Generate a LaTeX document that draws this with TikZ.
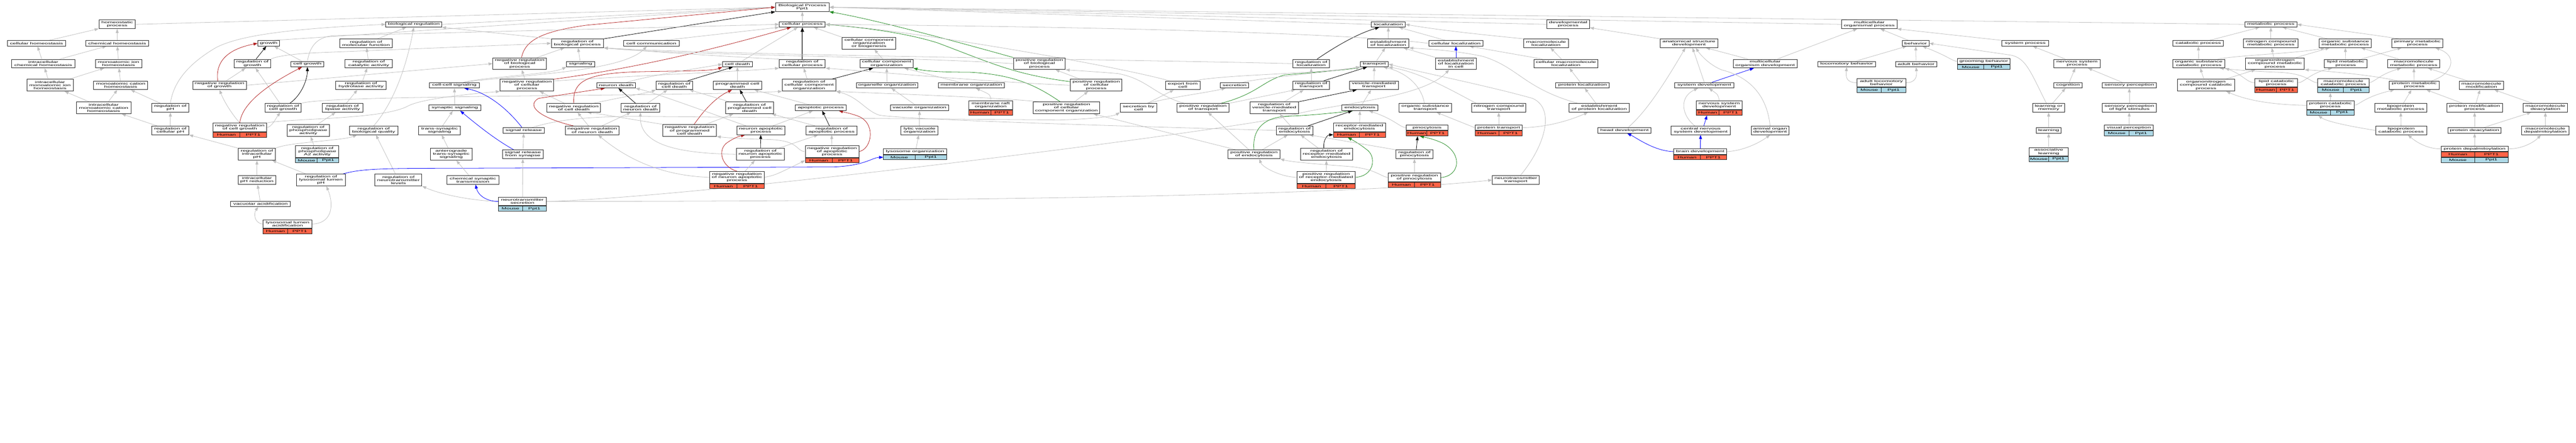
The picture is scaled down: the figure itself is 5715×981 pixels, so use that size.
\documentclass[tikz,border=0pt]{standalone}
\usepackage{fontspec}
\setmainfont{Liberation Sans}[FakeStretch=1.86]
\usetikzlibrary{arrows.meta,fit,backgrounds}
\definecolor{tomatoc}{HTML}{FF6347}
\definecolor{lblue}{HTML}{ADD8E6}
\definecolor{egray}{HTML}{C0C0C0}
\definecolor{fred}{HTML}{B22222}
\definecolor{fgreen}{HTML}{228B22}
\newcommand\gofont{\fontsize{7}{7}\selectfont}
\tikzset{
 gobox/.style={draw=black!85,line width=1.1pt,fill=white,inner sep=0pt,align=center,font=\gofont},
 hcell/.style={gobox,fill=tomatoc,minimum height=11pt},
 mcell/.style={gobox,fill=lblue,minimum height=11pt},
 gotip/.style={-{Triangle[length=9pt,width=6.5pt]}},
 isa/.style={draw=egray,line width=0.9pt,gotip},
 regl/.style={draw=black,line width=0.9pt,gotip},
 negr/.style={draw=fred,line width=0.9pt,gotip},
 posr/.style={draw=fgreen,line width=0.9pt,gotip},
 partof/.style={draw=blue,line width=0.9pt,gotip},
 regthick/.style={draw=black!65,line width=2pt,-{Triangle[length=10pt,width=7.5pt,color=black]}},
}
\newcommand\GOn[6]{\node[gobox,minimum width=#4pt,minimum height=#5pt] (#1) at (#2,#3) {#6};}
\newcommand\GOs[9]{%
 \node[gobox,minimum width=#4pt,minimum height=#5pt] (#1-t) at (#2,#3) {#6};
 \node[#7,anchor=north west,minimum width=#4pt/2] (#1-a) at (#1-t.south west) {#8};
 \node[#7,anchor=north east,minimum width=#4pt/2] (#1-b) at (#1-t.south east) {#9};
 \node[fit=(#1-t)(#1-a)(#1-b),inner sep=0pt] (#1) {};}
\begin{document}
\begin{tikzpicture}[x=1pt,y=-1pt]
\useasboundingbox (0,0) rectangle (5715,981);
% ---------------- nodes ----------------
\GOn{bp}{1780}{16}{119}{19}{Biological Process\\Ppt1}
\GOn{homeo}{260}{54}{81}{19}{homeostatic\\process}
\GOn{bioreg}{918}{54}{124}{12}{biological regulation}
\GOn{cellproc}{1780}{54}{102}{12}{cellular process}
\GOn{loc}{3080}{54}{75}{12}{localization}
\GOn{devproc}{3479}{54}{95}{19}{developmental\\process}
\GOn{multiorg}{4147}{54}{123}{19}{multicellular\\organismal process}
\GOn{metab}{5038}{54}{116}{12}{metabolic process}
\GOn{cellhomeo}{81}{96}{129}{12}{cellular homeostasis}
\GOn{chemhomeo}{260}{96}{140}{12}{chemical homeostasis}
\GOn{growth}{596}{96}{48}{12}{growth}
\GOn{regmolfn}{812}{96}{116}{19}{regulation of\\molecular function}
\GOn{regbioproc}{1281}{96}{116}{19}{regulation of\\biological process}
\GOn{cellcomm}{1445}{96}{124}{12}{cell communication}
\GOn{ccob}{1928}{96}{119}{26}{cellular component\\organization\\or biogenesis}
\GOn{estloc}{3080}{96}{92}{19}{establishment\\of localization}
\GOn{cellloc}{3230}{96}{121}{12}{cellular localization}
\GOn{macroloc}{3430}{96}{99}{19}{macromolecule\\localization}
\GOn{anatdev}{3747}{96}{128}{19}{anatomical structure\\development}
\GOn{behavior}{4250}{96}{59}{12}{behavior}
\GOn{sysproc}{4493}{96}{103}{12}{system process}
\GOn{catab}{4877}{96}{112}{12}{catabolic process}
\GOn{nitromet}{5038}{96}{121}{19}{nitrogen compound\\metabolic process}
\GOn{orgsubmet}{5203}{96}{116}{19}{organic substance\\metabolic process}
\GOn{primmet}{5363}{96}{114}{19}{primary metabolic\\process}
\GOn{ichemhomeo}{96}{141}{140}{19}{intracellular\\chemical homeostasis}
\GOn{ionhomeo}{263}{141}{103}{19}{monoatomic ion\\homeostasis}
\GOn{reggrowth}{560}{141}{81}{19}{regulation of\\growth}
\GOn{cellgrowth}{682}{142}{73}{12}{cell growth}
\GOn{regcat}{818}{141}{105}{19}{regulation of\\catalytic activity}
\GOn{negregbio}{1153}{141}{119}{26}{negative regulation\\of biological\\process}
\GOn{signaling}{1288}{142}{62}{12}{signaling}
\GOn{celldeath}{1636}{142}{66}{12}{cell death}
\GOn{regcellproc}{1780}{141}{102}{19}{regulation of\\cellular process}
\GOn{cco}{1967}{141}{118}{19}{cellular component\\organization}
\GOn{posregbio}{2306}{141}{115}{26}{positive regulation\\of biological\\process}
\GOn{regloc}{2909}{141}{81}{19}{regulation of\\localization}
\GOn{transport}{3049}{142}{62}{12}{transport}
\GOn{estlocincell}{3230}{141}{91}{26}{establishment\\of localization\\in cell}
\GOn{cellmacroloc}{3474}{141}{142}{19}{cellular macromolecule\\localization}
\GOn{multidev}{3916}{141}{142}{19}{multicellular\\organism development}
\GOn{locobeh}{4097}{142}{127}{12}{locomotory behavior}
\GOn{adultbeh}{4251}{142}{91}{12}{adult behavior}
\GOn{nsproc}{4608}{141}{103}{19}{nervous system\\process}
\GOn{orgsubcat}{4878}{141}{116}{19}{organic substance\\catabolic process}
\GOn{orgnitromet}{5047}{141}{131}{26}{organonitrogen\\compound metabolic\\process}
\GOn{lipidmet}{5204}{141}{94}{19}{lipid metabolic\\process}
\GOn{macromet}{5355}{141}{116}{19}{macromolecule\\metabolic process}
\GOn{iionhomeo}{111}{189}{103}{26}{intracellular\\monoatomic ion\\homeostasis}
\GOn{cationhomeo}{268}{189}{120}{19}{monoatomic cation\\homeostasis}
\GOn{negreggrowth}{487}{189}{119}{19}{negative regulation\\of growth}
\GOn{reghydro}{801}{189}{112}{19}{regulation of\\hydrolase activity}
\GOn{ccsig}{1008}{189}{110}{12}{cell-cell signaling}
\GOn{negregcell}{1169}{189}{119}{26}{negative regulation\\of cellular\\process}
\GOn{neurondeath}{1367}{189}{85}{12}{neuron death}
\GOn{regcelldeath}{1496}{189}{81}{19}{regulation of\\cell death}
\GOn{pcd}{1636}{189}{107}{19}{programmed cell\\death}
\GOn{regcco}{1795}{189}{119}{26}{regulation of\\cellular component\\organization}
\GOn{organelle}{1968}{189}{136}{12}{organelle organization}
\GOn{membrane}{2155}{189}{146}{12}{membrane organization}
\GOn{posregcell}{2432}{189}{114}{26}{positive regulation\\of cellular\\process}
\GOn{export}{2624}{189}{77}{19}{export from\\cell}
\GOn{secretion}{2739}{189}{63}{12}{secretion}
\GOn{regtransport}{2909}{189}{81}{19}{regulation of\\transport}
\GOn{vesicle}{3048}{189}{109}{19}{vesicle-mediated\\transport}
\GOn{protloc}{3511}{189}{119}{12}{protein localization}
\GOn{sysdev}{3781}{189}{131}{12}{system development}
\GOn{cognition}{4588}{189}{63}{12}{cognition}
\GOn{sensory}{4724}{189}{121}{12}{sensory perception}
\GOn{orgnitrocat}{4894}{189}{127}{26}{organonitrogen\\compound catabolic\\process}
\GOn{protmet}{5356}{189}{110}{19}{protein metabolic\\process}
\GOn{macromod}{5505}{189}{99}{19}{macromolecule\\modification}
\GOn{icationhomeo}{230}{239}{121}{26}{intracellular\\monoatomic cation\\homeostasis}
\GOn{regph}{378}{239}{82}{19}{regulation of\\pH}
\GOn{regcellgrowth}{628}{239}{81}{19}{regulation of\\cell growth}
\GOn{reglipase}{760}{239}{90}{19}{regulation of\\lipase activity}
\GOn{synsig}{1009}{239}{115}{12}{synaptic signaling}
\GOn{negregcelldeath}{1273}{239}{119}{19}{negative regulation\\of cell death}
\GOn{regneurondeath}{1421}{239}{86}{19}{regulation of\\neuron death}
\GOn{regpcd}{1663}{239}{107}{26}{regulation of\\programmed cell\\death}
\GOn{apoptotic}{1821}{239}{113}{12}{apoptotic process}
\GOn{vacuole}{2040}{239}{129}{12}{vacuole organization}
\GOn{posregcco}{2366}{239}{148}{26}{positive regulation\\of cellular\\component organization}
\GOn{secbycell}{2526}{239}{82}{19}{secretion by\\cell}
\GOn{posregtransport}{2669}{239}{115}{19}{positive regulation\\of transport}
\GOn{regvesicle}{2827}{239}{108}{26}{regulation of\\vesicle-mediated\\transport}
\GOn{endocytosis}{3017}{239}{80}{12}{endocytosis}
\GOn{orgsubtrans}{3162}{239}{116}{19}{organic substance\\transport}
\GOn{nitrotrans}{3325}{239}{120}{19}{nitrogen compound\\transport}
\GOn{estprotloc}{3548}{239}{134}{19}{establishment\\of protein localization}
\GOn{learnmem}{4545}{239}{71}{19}{learning or\\memory}
\GOn{senslight}{4724}{239}{121}{19}{sensory perception\\of light stimulus}
\GOn{lipoprotmet}{5326}{239}{116}{19}{lipoprotein\\metabolic process}
\GOn{protmod}{5490}{239}{123}{19}{protein modification\\process}
\GOn{macrodeacyl}{5647}{239}{99}{19}{macromolecule\\deacylation}
\GOn{regcellph}{378}{289}{82}{19}{regulation of\\cellular pH}
\GOn{regphospho}{684}{289}{94}{26}{regulation of\\phospholipase\\activity}
\GOn{regbioqual}{829}{289}{107}{19}{regulation of\\biological quality}
\GOn{transsyn}{975}{289}{92}{19}{trans-synaptic\\signaling}
\GOn{sigrelease}{1162}{289}{91}{12}{signal release}
\GOn{negregneurondeath}{1314}{289}{119}{19}{negative regulation\\of neuron death}
\GOn{negregpcd}{1530}{289}{119}{26}{negative regulation\\of programmed\\cell death}
\GOn{neuronapop}{1688}{289}{106}{19}{neuron apoptotic\\process}
\GOn{regapop}{1845}{289}{113}{19}{regulation of\\apoptotic process}
\GOn{lyticvac}{2040}{289}{82}{19}{lytic vacuole\\organization}
\GOn{regendo}{2872}{289}{81}{19}{regulation of\\endocytosis}
\GOn{headdev}{3604}{289}{117}{12}{head development}
\GOn{cnsdev}{3773}{289}{131}{19}{central nervous\\system development}
\GOn{organdev}{3927}{289}{84}{19}{animal organ\\development}
\GOn{learning}{4545}{289}{55}{12}{learning}
\GOn{lipoprotcat}{5327}{289}{113}{19}{lipoprotein\\catabolic process}
\GOn{protdeacyl}{5490}{289}{118}{12}{protein deacylation}
\GOn{macrodepalm}{5647}{289}{105}{19}{macromolecule\\depalmitoylation}
\GOn{regintraph}{570}{342}{82}{26}{regulation of\\intracellular\\pH}
\GOn{anterograde}{1001}{342}{93}{26}{anterograde\\trans-synaptic\\signaling}
\GOn{sigrelsyn}{1160}{342}{91}{19}{signal release\\from synapse}
\GOn{regneuronapop}{1687}{342}{107}{26}{regulation of\\neuron apoptotic\\process}
\GOn{posregendo}{2782}{342}{115}{19}{positive regulation\\of endocytosis}
\GOn{regrme}{2943}{342}{115}{26}{regulation of\\receptor-mediated\\endocytosis}
\GOn{regpino}{3138}{342}{82}{19}{regulation of\\pinocytosis}
\GOn{intraphred}{570}{399}{83}{19}{intracellular\\pH reduction}
\GOn{reglysoph}{712}{399}{109}{26}{regulation of\\lysosomal lumen\\pH}
\GOn{regneurolevels}{884}{399}{104}{26}{regulation of\\neurotransmitter\\levels}
\GOn{chemsyn}{1049}{399}{115}{19}{chemical synaptic\\transmission}
\GOn{neurotrans}{3363}{399}{104}{19}{neurotransmitter\\transport}
\GOn{vacacid}{578}{452}{133}{12}{vacuolar acidification}
% species nodes
\GOs{groom}{4401}{136}{116}{12}{grooming behavior}{mcell}{Mouse}{Ppt1}
\GOs{adultloco}{4174}{183.5}{108}{19}{adult locomotory\\behavior}{mcell}{Mouse}{Ppt1}
\GOs{lipidcat}{5050}{183.5}{95}{19}{lipid catabolic\\process}{hcell}{Human}{PPT1}
\GOs{macrocat}{5199}{183.5}{114}{19}{macromolecule\\catabolic process}{mcell}{Mouse}{Ppt1}
\GOs{raft}{2198}{233.5}{98}{19}{membrane raft\\organization}{hcell}{Human}{PPT1}
\GOs{nsdev}{3814}{233.5}{102}{19}{nervous system\\development}{hcell}{Human}{PPT1}
\GOs{protcat}{5170}{233.5}{105}{19}{protein catabolic\\process}{mcell}{Mouse}{Ppt1}
\GOs{negregcellgrowth}{532}{282.5}{119}{19}{negative regulation\\of cell growth}{hcell}{Human}{PPT1}
\GOs{rme}{3016}{282.5}{115}{19}{receptor-mediated\\endocytosis}{hcell}{Human}{PPT1}
\GOs{pino}{3166}{283}{92}{12}{pinocytosis}{hcell}{Human}{PPT1}
\GOs{prottrans}{3325}{283}{105}{12}{protein transport}{hcell}{Human}{PPT1}
\GOs{visual}{4723}{283}{108}{12}{visual perception}{mcell}{Mouse}{Ppt1}
\GOs{regpla2}{704}{336}{96}{26}{regulation of\\phospholipase\\A2 activity}{mcell}{Mouse}{Ppt1}
\GOs{negregapop}{1846}{336}{119}{26}{negative regulation\\of apoptotic\\process}{hcell}{Human}{PPT1}
\GOs{lysosome}{2030}{336}{140}{12}{lysosome organization}{mcell}{Mouse}{Ppt1}
\GOs{braindev}{3772}{336}{117}{12}{brain development}{hcell}{Human}{PPT1}
\GOs{assoc}{4545}{336.5}{87}{19}{associative\\learning}{mcell}{Mouse}{Ppt1}
\GOs{negregneuronapop}{1635}{393}{121}{26}{negative regulation\\of neuron apoptotic\\process}{hcell}{Human}{PPT1}
\GOs{posregrme}{2942}{393}{130}{26}{positive regulation\\of receptor-mediated\\endocytosis}{hcell}{Human}{PPT1}
\GOs{posregpino}{3138}{393.5}{116}{19}{positive regulation\\of pinocytosis}{hcell}{Human}{PPT1}
\GOs{ntsecretion}{1159}{446.5}{106}{19}{neurotransmitter\\secretion}{mcell}{Mouse}{Ppt1}
\GOs{lysolumen}{638}{496.5}{108}{19}{lysosomal lumen\\acidification}{hcell}{Human}{PPT1}
\node[gobox,minimum width=149pt,minimum height=12pt] (protdepalm-t) at (5490,330) {protein depalmitoylation};
\node[hcell,anchor=north west,minimum width=74.5pt] (protdepalm-a) at (protdepalm-t.south west) {Human};
\node[hcell,anchor=north east,minimum width=74.5pt] (protdepalm-b) at (protdepalm-t.south east) {PPT1};
\node[mcell,anchor=north west,minimum width=74.5pt] (protdepalm-c) at (protdepalm-a.south west) {Mouse};
\node[mcell,anchor=north east,minimum width=74.5pt] (protdepalm-d) at (protdepalm-b.south east) {Ppt1};
\node[fit=(protdepalm-t)(protdepalm-c)(protdepalm-d),inner sep=0pt] (protdepalm) {};
% ---------------- edges ----------------
\begin{pgfonlayer}{background}
\fill[white] (0,0) rectangle (5715,981);
% to root
\draw[isa] (homeo.east) -- (bp.west);
\draw[isa] (bioreg.east) -- (bp.west);
\draw[isa] ([xshift=12pt]growth.north) -- (bp.west);
\draw[regl] (regbioproc.north east) -- (bp.south west);
\draw[negr] ([xshift=4pt]negregbio.north) .. controls (1165,90) and (1200,70) .. (1300,56) -- (bp.west);
\draw[isa] (cellproc) -- (bp);
\draw[isa] (loc.west) -- (bp.east);
\draw[isa] (devproc.west) -- (bp.east);
\draw[isa] (multiorg.west) -- (bp.east);
\draw[isa] (metab.west) -- (bp.east);
\draw[posr] (posregbio.north west) .. controls (2150,100) and (1950,45) .. (bp.south east);
% homeostasis
\draw[isa] (cellhomeo) -- (homeo);
\draw[isa] (chemhomeo) -- (homeo);
\draw[isa] (ichemhomeo) -- (cellhomeo);
\draw[isa] (ichemhomeo) -- (chemhomeo);
\draw[isa] (ionhomeo) -- (chemhomeo);
\draw[isa] (iionhomeo) -- (ichemhomeo);
\draw[isa] (iionhomeo) -- (ionhomeo);
\draw[isa] (cationhomeo) -- (ionhomeo);
\draw[isa] (icationhomeo) -- (iionhomeo);
\draw[isa] (icationhomeo) -- (cationhomeo);
\draw[isa] (regph) -- (cationhomeo);
\draw[isa] (regcellph) -- (regph);
\draw[isa] (regcellph) -- (icationhomeo);
\draw[isa] (regph.north) .. controls (385,180) and (420,140) .. (480,105) .. controls (520,85) and (600,65) .. (bioreg.west);
% growth
\draw[regl] (reggrowth) -- (growth);
\draw[isa] (cellgrowth) -- (growth);
\draw[isa] (reggrowth.north east) .. controls (610,126) and (640,120) .. (700,117) -- (regbioproc.west);
\draw[isa] (cellgrowth.north) .. controls (688,100) and (705,82) .. (740,79) -- (cellproc.west);
\draw[isa] (negreggrowth) -- (reggrowth);
\draw[negr] ([xshift=-4pt]negreggrowth.north) .. controls (478,140) and (500,110) .. (growth.west);
\draw[isa] (negreggrowth.east) -- (negregbio.west);
\draw[isa] (regcellgrowth) -- (reggrowth);
\draw[regl] ([xshift=15pt]regcellgrowth.north) .. controls (670,210) and (682,175) .. (cellgrowth.south);
\draw[isa] (regcellgrowth.north east) .. controls (720,210) and (1500,214) .. (regcco.south west);
\draw[isa] (negregcellgrowth.north) .. controls (522,262) and (500,232) .. (negreggrowth.south);
\draw[negr] (negregcellgrowth.north) .. controls (536,235) and (580,195) .. ([xshift=-12pt]cellgrowth.south);
\draw[isa] (negregcellgrowth-t.east) .. controls (603,282) and (612,262) .. ([xshift=-6pt]regcellgrowth.south);
\draw[isa] (negregcellgrowth.north east) .. controls (650,262) and (850,265) .. (905,235) .. controls (930,222) and (1000,212) .. (negregcell.south west);
% molecular function
\draw[isa] (regmolfn) -- (bioreg);
\draw[isa] (regcat) -- (regmolfn);
\draw[isa] (reghydro) -- (regcat);
\draw[isa] (reglipase) -- (reghydro);
\draw[isa] (regphospho) -- (reglipase);
\draw[isa] (regpla2) -- (regphospho);
\draw[isa] (regbioqual.north) .. controls (880,220) and (905,130) .. (bioreg.south);
\draw[isa] (regneurolevels) -- (regbioqual);
% pH
\draw[isa] (regintraph.north west) -- (regcellph.south east);
\draw[isa] (regintraph.north east) .. controls (640,315) and (760,312) .. ([xshift=17pt]regbioqual.south west);
\draw[isa] (intraphred) -- (regintraph);
\draw[isa] (reglysoph) -- (regintraph);
\draw[isa] (vacacid) -- (intraphred);
\draw[isa] (lysolumen-t.west) .. controls (563,495) and (563,472) .. ([xshift=-5pt]vacacid.south);
\draw[isa] (lysolumen-t.east) .. controls (740,495) and (740,450) .. ([xshift=12pt]reglysoph.south);
\draw[partof] ([xshift=-6pt]reglysoph.north east) .. controls (800,374) and (850,373) .. (1000,373) -- (1850,370) .. controls (1920,367) and (1935,349) .. (lysosome-a.west);
% neurotransmitter / signaling
\draw[isa] (ntsecretion-t.west) .. controls (1050,445) and (980,432) .. (regneurolevels.south east);
\draw[partof] (ntsecretion-t.west) .. controls (1075,446) and (1060,430) .. ([xshift=6pt]chemsyn.south);
\draw[isa] (ntsecretion) -- (sigrelsyn);
\draw[isa] (ntsecretion-t.east) .. controls (2200,446) and (3000,432) .. (neurotrans.west);
\draw[isa] (ntsecretion-t.east) .. controls (1500,440) and (2500,320) .. (2840,262) .. controls (2950,228) and (3150,222) .. ([xshift=-15pt]estlocincell.south);
\draw[isa] (sigrelsyn) -- (sigrelease);
\draw[partof] ([xshift=-20pt]sigrelsyn.north) .. controls (1100,310) and (1060,278) .. ([xshift=12pt]synsig.south);
\draw[partof] ([xshift=-4pt]sigrelease.north) .. controls (1125,240) and (1080,205) .. ([xshift=22pt]ccsig.south);
\draw[isa] ([xshift=18pt]sigrelease.north) .. controls (1240,265) and (1300,258) .. (1420,258) -- (2350,266) .. controls (2420,264) and (2470,258) .. (secbycell.south west);
\draw[isa] (synsig) -- (ccsig);
\draw[isa] (transsyn) -- (synsig);
\draw[isa] (anterograde) -- (transsyn);
\draw[isa] (chemsyn) -- (anterograde);
\draw[isa] ([xshift=20pt]ccsig.north) .. controls (1080,170) and (1220,165) .. (signaling.south west);
\draw[isa] ([xshift=20pt]ccsig.north) .. controls (1150,166) and (1380,160) .. ([xshift=-10pt]cellcomm.south);
\draw[isa] (signaling) -- (regbioproc);
\draw[isa] (regbioproc.north west) -- (bioreg.south east);
\draw[isa] (negregbio) -- (regbioproc);
\draw[isa] (negregcell) -- (negregbio);
\draw[negr] (negregcell.north east) .. controls (1420,150) and (1600,105) .. ([xshift=-25pt]cellproc.south);
\draw[isa] ([yshift=-4pt]negregcell.north east) .. controls (1400,168) and (1650,158) .. (regcellproc.south west);
\draw[isa] ([xshift=28pt]cellcomm.north) -- (cellproc.south west);
% cell death
\draw[isa] (negregcelldeath) -- (negregcell);
\draw[isa] ([xshift=44pt]negregcelldeath.north) .. controls (1380,215) and (1440,205) .. (regcelldeath.south west);
\draw[negr] (negregcelldeath.north) .. controls (1270,180) and (1300,162) .. (1420,159) .. controls (1500,157) and (1580,158) .. (celldeath.south west);
\draw[regl] ([xshift=30pt]regcelldeath.north) -- ([xshift=-10pt]celldeath.south);
\draw[regl] ([xshift=-11pt]regneurondeath.north) -- ([xshift=5pt]neurondeath.south);
\draw[isa] (regneurondeath) -- (regcelldeath);
\draw[isa] ([xshift=23pt]neurondeath.north) .. controls (1450,165) and (1560,150) .. (celldeath.west);
\draw[isa] (negregneurondeath) -- (negregcelldeath);
\draw[isa] (negregneurondeath) -- (regneurondeath);
\draw[negr] ([xshift=-42pt]negregneurondeath.north) .. controls (1200,262) and (1165,235) .. (1195,218) -- ([xshift=-25pt]neurondeath.south);
\draw[isa] (negregpcd.north west) .. controls (1420,268) and (1350,255) .. ([xshift=30pt]negregcelldeath.south);
\draw[isa] (negregpcd) -- (regpcd);
\draw[negr] ([xshift=10pt]negregpcd.north) .. controls (1565,240) and (1590,215) .. ([xshift=-12pt]pcd.south);
\draw[isa] (regpcd) -- (regcelldeath);
\draw[regl] (regpcd) -- (pcd);
\draw[isa] (pcd) -- (celldeath);
\draw[isa] ([xshift=10pt]celldeath.north) -- ([xshift=-10pt]cellproc.south);
\draw[regthick] (regcellproc) -- (cellproc);
\draw[isa] (regcellproc.north west) .. controls (1600,125) and (1450,115) .. (regbioproc.south east);
\draw[isa] (apoptotic) -- (pcd);
\draw[isa] (regapop) -- (regpcd);
\draw[regl] (regapop) -- (apoptotic);
\draw[isa] (neuronapop) -- (apoptotic);
\draw[isa] ([xshift=-33pt]neuronapop.north) .. controls (1560,245) and (1450,205) .. (neurondeath.south east);
\draw[regl] (regneuronapop) -- (neuronapop);
\draw[isa] (regneuronapop) -- (regapop);
\draw[isa] (regneuronapop.west) .. controls (1500,340) and (1418,320) .. (regneurondeath.south);
\draw[isa] (negregapop) -- (regapop);
\draw[isa] (negregapop-t.west) .. controls (1765,335) and (1775,310) .. (1700,309) .. controls (1650,308) and (1610,305) .. (negregpcd.south east);
\draw[negr] (negregapop-t.east) .. controls (1935,330) and (1945,270) .. (1900,256) .. controls (1885,251) and (1875,249) .. ([xshift=40pt]apoptotic.south);
\draw[isa] (negregneuronapop) -- (regneuronapop);
\draw[negr] (negregneuronapop-t.north) .. controls (1600,370) and (1590,330) .. (1615,315) .. controls (1630,305) and (1640,302) .. ([xshift=-35pt]neuronapop.south);
\draw[isa] (negregneuronapop-t.east) .. controls (1720,388) .. (negregapop-a.west);
\draw[isa] (negregneuronapop-t.west) .. controls (1480,390) and (1400,360) .. ([xshift=13pt]negregneurondeath.south);
% cellular component organization
\draw[isa] (ccob.north west) -- ([xshift=25pt]cellproc.south);
\draw[isa] (cco) -- (ccob);
\draw[isa] (organelle) -- (cco);
\draw[isa] (membrane) -- (cco);
\draw[isa] (vacuole) -- (organelle);
\draw[isa] (raft.north) .. controls (2198,210) .. ([xshift=10pt]membrane.south);
\draw[isa] (lyticvac) -- (vacuole);
\draw[isa] (lysosome) -- (lyticvac);
\draw[isa] (regcco) -- (regcellproc);
\draw[regl] ([xshift=50pt]regcco.north) -- ([xshift=-30pt]cco.south);
\draw[isa] ([xshift=-60pt]posregcco.north) .. controls (2200,215) and (1950,207) .. (regcco.south east);
\draw[isa] (regendo.west) .. controls (2500,280) and (2000,265) .. (1950,255) .. controls (1920,245) and (1905,215) .. (regcco.south east);
\draw[isa] (posregcco) -- (posregcell);
\draw[posr] ([xshift=-14pt]posregcco.north) .. controls (2300,190) and (2250,165) .. (2150,160) .. controls (2080,160) and (2050,157) .. (cco.south east);
\draw[isa] (posregcell) -- (posregbio);
\draw[posr] ([yshift=8pt]posregcell.west) .. controls (2250,165) and (2200,140) .. (2080,95) .. controls (2000,70) and (1900,60) .. (cellproc.east);
\draw[isa] (posregcell.west) .. controls (2200,182) and (1950,160) .. (regcellproc.south east);
\draw[isa] (posregbio.west) .. controls (2000,125) and (1500,122) .. (regbioproc.south east);
% transport
\draw[isa] ([xshift=-42pt]posregtransport.north) .. controls (2560,210) and (2545,175) .. (2480,163) .. controls (2420,158) and (2380,156) .. (posregbio.south east);
\draw[isa] (posregtransport.north east) -- ([xshift=-35pt]regtransport.south);
\draw[posr] ([xshift=40pt]posregtransport.north) .. controls (2790,208) and (2800,180) .. (2850,166) .. controls (2920,160) and (2990,155) .. (transport.south west);
\draw[isa] (posregendo) -- (posregtransport);
\draw[isa] ([xshift=-40pt]posregendo.north) -- ([xshift=60pt]posregcco.south);
\draw[isa] ([xshift=18pt]posregendo.north) -- ([xshift=-15pt]regendo.south);
\draw[posr] (posregendo.north) .. controls (2778,290) and (2800,262) .. (2850,258) .. controls (2920,255) and (2960,250) .. ([xshift=-15pt]endocytosis.south);
\draw[isa] (posregrme-t.west) .. controls (2840,392) and (2800,370) .. ([xshift=12pt]posregendo.south);
\draw[isa] (posregrme) -- (regrme);
\draw[posr] (posregrme-t.east) .. controls (3050,390) and (3055,345) .. (3030,330) .. controls (3015,318) and (3000,310) .. ([xshift=-26pt]rme.south);
\draw[isa] (posregpino) -- (regpino);
\draw[posr] (posregpino-t.east) .. controls (3240,390) and (3245,340) .. (3200,317) .. controls (3180,308) and (3165,305) .. ([xshift=-16pt]pino.south);
\draw[isa] (posregpino-t.west) .. controls (3060,390) and (3050,372) .. (2980,368) .. controls (2900,362) and (2860,358) .. (posregendo.south east);
\draw[isa] (regrme) -- (regendo);
\draw[regl] ([xshift=-6pt]regrme.north) .. controls (2935,310) and (2945,299) .. (rme-a.west);
\draw[isa] (regpino.north west) -- ([xshift=33pt]regendo.south);
\draw[regl] ([xshift=4pt]regpino.north) -- ([xshift=-21pt]pino.south);
\draw[isa] (regendo) -- (regvesicle);
\draw[regl] ([xshift=30pt]regendo.north) -- ([xshift=-17pt]endocytosis.south);
\draw[isa] (rme) -- (endocytosis);
\draw[isa] (pino-t.west) .. controls (3105,282) and (3095,265) .. ([xshift=20pt]endocytosis.south);
\draw[isa] (endocytosis) -- (vesicle);
\draw[isa] (regvesicle) -- (regtransport);
\draw[regl] (regvesicle.north east) -- ([xshift=-38pt]vesicle.south);
\draw[isa] (vesicle) -- (transport);
\draw[isa] (regtransport) -- (regloc);
\draw[regl] ([xshift=28pt]regtransport.north) -- ([xshift=-16pt]transport.south);
\draw[regl] ([xshift=13pt]regloc.north) .. controls (2960,105) and (3010,75) .. ([xshift=-20pt]loc.south);
\draw[isa] (regloc.west) .. controls (2500,132) and (1600,122) .. (regbioproc.south east);
\draw[isa] (transport) -- (estloc);
\draw[isa] (estloc) -- (loc);
\draw[isa] (cellloc) -- (loc);
\draw[isa] (estlocincell) -- (estloc);
\draw[partof] (estlocincell) -- (cellloc);
\draw[isa] ([xshift=-2pt]orgsubtrans.north) .. controls (3155,195) and (3125,162) .. ([xshift=20pt]transport.south);
\draw[isa] ([xshift=-50pt]nitrotrans.north) .. controls (3220,200) and (3150,160) .. (transport.south east);
\draw[isa] ([xshift=10pt]neurotrans.north) .. controls (3430,320) and (3450,240) .. (3400,218) .. controls (3300,190) and (3150,160) .. (transport.east);
\draw[isa] (prottrans) -- (nitrotrans);
\draw[isa] (prottrans-t.west) -- ([xshift=25pt]orgsubtrans.south);
\draw[isa] (prottrans-t.east) .. controls (3430,282) and (3480,268) .. ([xshift=-25pt]estprotloc.south);
\draw[isa] (estprotloc) -- (protloc);
\draw[isa] ([xshift=-48pt]estprotloc.north) .. controls (3380,195) and (3370,150) .. (3290,125) .. controls (3220,110) and (3150,108) .. (estloc.south east);
\draw[isa] (protloc) -- (cellmacroloc);
\draw[isa] (cellmacroloc) -- (macroloc);
\draw[isa] ([xshift=-52pt]cellmacroloc.north) -- ([xshift=30pt]cellloc.south);
\draw[isa] (macroloc.north west) .. controls (3300,78) and (3200,68) .. (loc.east);
\draw[isa] (cellloc.west) .. controls (3000,75) and (2500,60) .. (cellproc.east);
\draw[isa] ([xshift=26pt]export.north) .. controls (2720,165) and (2900,165) .. (transport.south west);
\draw[isa] ([xshift=18pt]secretion.north) .. controls (2800,172) and (2950,160) .. (transport.south west);
\draw[isa] ([xshift=-30pt]export.north) .. controls (2450,140) and (2000,65) .. (cellproc.east);
\draw[isa] (secbycell) -- (export);
\draw[isa] ([xshift=20pt]secbycell.north) .. controls (2600,215) and (2680,205) .. ([xshift=-20pt]secretion.south);
% development
\draw[isa] (anatdev) -- (devproc);
\draw[isa] (multidev) -- (anatdev);
\draw[isa] (multidev) -- (multiorg);
\draw[isa] (sysdev.north) -- ([xshift=8pt]anatdev.south);
\draw[partof] ([xshift=17pt]sysdev.north) -- ([xshift=-25pt]multidev.south);
\draw[isa] (nsdev.north) .. controls (3812,210) .. ([xshift=10pt]sysdev.south);
\draw[partof] ([xshift=7pt]cnsdev.north) -- ([xshift=-27pt]nsdev.south);
\draw[isa] ([xshift=-13pt]cnsdev.north) .. controls (3730,255) and (3725,215) .. ([xshift=-14pt]sysdev.south);
\draw[isa] (organdev.north) .. controls (3920,210) and (3880,170) .. (3820,155) .. controls (3795,145) and (3775,125) .. ([xshift=15pt]anatdev.south);
\draw[isa] ([xshift=8pt]headdev.north) .. controls (3650,250) and (3690,190) .. ([xshift=-8pt]anatdev.south);
\draw[partof] (braindev-t.west) .. controls (3670,335) and (3630,305) .. ([xshift=6pt]headdev.south);
\draw[partof] (braindev) -- (cnsdev);
\draw[isa] (braindev-t.east) .. controls (3870,334) and (3905,315) .. (organdev.south);
% behavior / system process
\draw[isa] (behavior) -- (multiorg);
\draw[isa] (sysproc.north west) -- (multiorg.south east);
\draw[isa] ([xshift=20pt]locobeh.north) -- ([xshift=-20pt]behavior.south);
\draw[isa] (adultbeh) -- (behavior);
\draw[isa] (groom-t.west) .. controls (4330,135) and (4325,126) .. ([xshift=15pt]behavior.south);
\draw[isa] (adultloco-t.west) .. controls (4095,183) and (4095,170) .. (locobeh.south);
\draw[isa] (adultloco-t.east) .. controls (4250,183) and (4253,170) .. (adultbeh.south);
\draw[isa] ([xshift=-5pt]learnmem.north) .. controls (4505,160) and (4495,128) .. (4460,122) -- (behavior.east);
\draw[isa] (learnmem) -- (cognition);
\draw[isa] (cognition) -- (nsproc);
\draw[isa] (nsproc) -- (sysproc);
\draw[isa] (sensory) -- (nsproc);
\draw[isa] (senslight) -- (sensory);
\draw[isa] (visual) -- (senslight);
\draw[isa] (learning) -- (learnmem);
\draw[isa] (assoc) -- (learning);
% metabolism
\draw[isa] (catab) -- (metab);
\draw[isa] (nitromet) -- (metab);
\draw[isa] (orgsubmet) -- (metab);
\draw[isa] ([xshift=-41pt]primmet.north) .. controls (5250,75) and (5150,62) .. (metab.east);
\draw[isa] (orgsubcat) -- (catab);
\draw[isa] ([xshift=42pt]orgsubcat.north) .. controls (4970,122) and (5100,118) .. ([xshift=-45pt]orgsubmet.south);
\draw[isa] (orgnitromet) -- (nitromet);
\draw[isa] (orgnitromet) -- (orgsubmet);
\draw[isa] (lipidmet) -- (orgsubmet);
\draw[isa] ([xshift=34pt]lipidmet.north) -- ([xshift=-35pt]primmet.south);
\draw[isa] ([xshift=-33pt]macromet.north) -- ([xshift=35pt]orgsubmet.south);
\draw[isa] (orgnitrocat) -- (orgsubcat);
\draw[isa] (orgnitrocat) -- (orgnitromet);
\draw[isa] (lipidcat-t.west) .. controls (4985,183) and (4975,165) .. (orgsubcat.south east);
\draw[isa] (lipidcat-t.east) .. controls (5112,183) and (5125,162) .. ([xshift=-30pt]lipidmet.south);
\draw[isa] (macrocat-t.west) .. controls (5125,183) and (5120,162) .. (5050,160) .. controls (5000,158) and (4960,155) .. ([xshift=-12pt]orgsubcat.south east);
\draw[isa] (macrocat-t.east) .. controls (5270,180) and (5280,165) .. ([xshift=-28pt]macromet.south);
\draw[isa] (protmet) -- (macromet);
\draw[isa] ([xshift=-38pt]protmet.north) .. controls (5280,170) and (5200,160) .. (orgnitromet.south east);
\draw[isa] ([xshift=39pt]protmet.north) .. controls (5440,165) and (5455,125) .. ([xshift=40pt]primmet.south);
\draw[isa] (macromod) -- (macromet);
\draw[isa] (protcat.north) -- ([xshift=-29pt]macrocat.south);
\draw[isa] (protcat-t.west) .. controls (5030,232) and (4980,220) .. ([xshift=45pt]orgnitrocat.south);
\draw[isa] (protcat-t.east) .. controls (5235,232) and (5245,215) .. ([xshift=-44pt]protmet.south);
\draw[isa] (lipoprotmet) -- (protmet);
\draw[isa] (protmod) -- (protmet);
\draw[isa] (protmod) -- (macromod);
\draw[isa] (macrodeacyl) -- (macromod);
\draw[isa] (lipoprotcat) -- (lipoprotmet);
\draw[isa] (lipoprotcat.west) .. controls (5200,278) and (5160,268) .. ([xshift=-27pt]protcat.south);
\draw[isa] (protdeacyl) -- (protmod);
\draw[isa] (protdeacyl) -- (macrodeacyl);
\draw[isa] (macrodepalm) -- (macrodeacyl);
\draw[isa] (protdepalm-t.west) .. controls (5380,330) and (5355,310) .. ([xshift=15pt]lipoprotcat.south);
\draw[isa] (protdepalm) -- (protdeacyl);
\draw[isa] (protdepalm-t.east) .. controls (5600,330) and (5625,312) .. ([xshift=-10pt]macrodepalm.south);
\end{pgfonlayer}
\end{tikzpicture}
\end{document}
